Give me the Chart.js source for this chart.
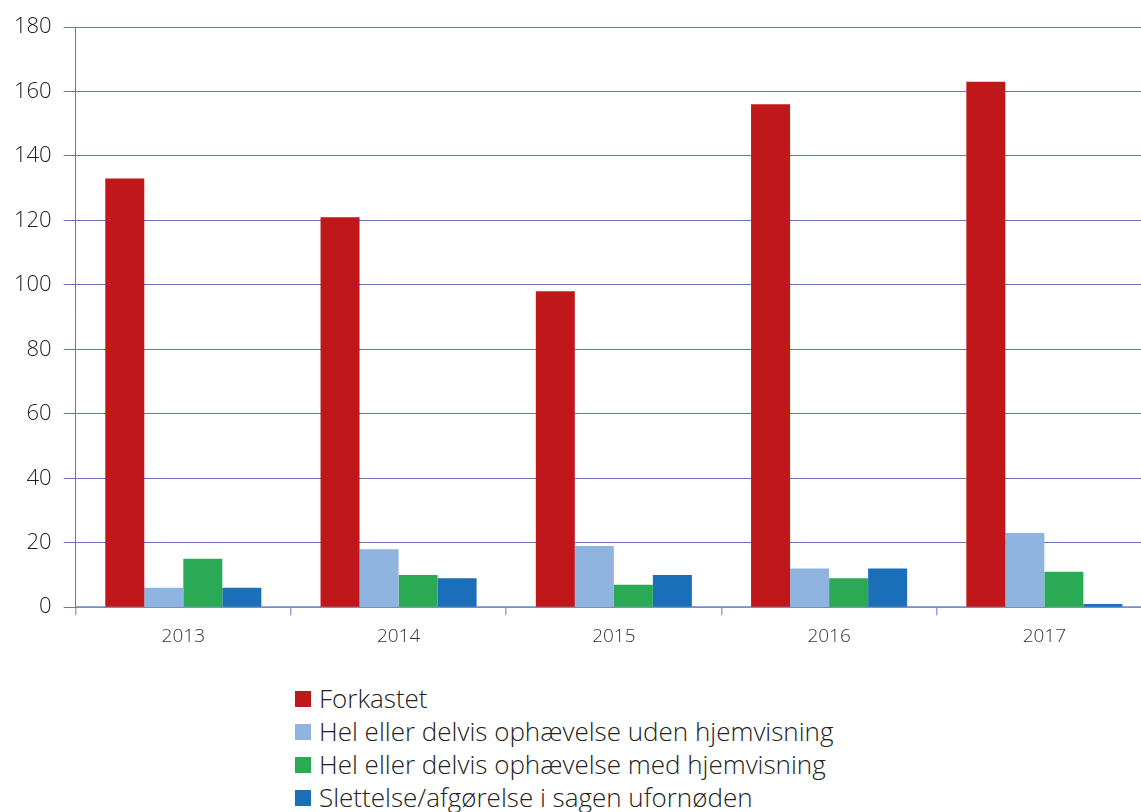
<!DOCTYPE html>
<html>
<head>
<meta charset="utf-8">
<script src="https://cdn.jsdelivr.net/npm/chart.js@4"></script>
<style>
  body { margin: 0; background: #fff; font-family: "Open Sans", sans-serif; overflow: hidden; }
  #wrap { position: relative; width: 1141px; height: 660px; overflow: hidden; }
  #legend { position: absolute; left: 295px; top: 682px; font-weight: 300; font-size: 26px; color: #222; }
  #legend div { height: 33px; line-height: 33px; display: flex; align-items: center; }
  #legend span.box { display: inline-block; width: 16px; height: 16px; margin-right: 8px; }
</style>
</head>
<body>
<div id="wrap"><canvas id="myChart" width="1152" height="660"></canvas></div>
<div id="legend"></div>
<script>
// data
const years = ['2013', '2014', '2015', '2016', '2017'];
const forkastet = [133, 121, 98, 156, 163];
const udenHjemvisning = [6, 18, 19, 12, 23];
const medHjemvisning = [15, 10, 7, 9, 11];
const slettelse = [6, 9, 10, 12, 1];
const seriesNames = [
    'Forkastet',
    'Hel eller delvis ophævelse uden hjemvisning',
    'Hel eller delvis ophævelse med hjemvisning',
    'Slettelse/afgørelse i sagen ufornøden'
];
const seriesColors = ['#c0181a', '#8fb4e0', '#2aaa55', '#1a6fb8'];

const gridBlue = '#6475b8';

const ctx = document.getElementById('myChart');
const chart = new Chart(ctx, {
    type: 'bar',
    data: {
        labels: years,
        datasets: [forkastet, udenHjemvisning, medHjemvisning, slettelse].map(function (d, i) {
            return {
                label: seriesNames[i],
                data: d,
                backgroundColor: seriesColors[i],
                borderWidth: 0
            };
        })
    },
    options: {
        responsive: false,
        animation: false,
        layout: { padding: { top: 27, left: 2, right: 0, bottom: 2 } },
        plugins: {
            legend: { display: false },
            tooltip: { enabled: false }
        },
        datasets: { bar: { categoryPercentage: 0.725, barPercentage: 1 } },
        scales: {
            x: {
                offset: true,
                grid: { offset: true, drawOnChartArea: false, color: '#8fa6d8', tickLength: 8, lineWidth: 1.5 },
                border: { color: '#8fa6d8', width: 1.5 },
                ticks: { color: '#333', font: { family: 'Open Sans', size: 19, weight: '300' }, padding: 10 }
            },
            y: {
                min: 0,
                max: 180,
                grid: { color: gridBlue, lineWidth: 1, tickLength: 12 },
                border: { color: gridBlue, width: 1 },
                ticks: { stepSize: 20, color: '#222', font: { family: 'Open Sans', size: 22, weight: '300' }, padding: 12 }
            }
        }
    }
});

// legend as html
const legend = document.getElementById('legend');
chart.data.datasets.forEach(function (ds) {
    const row = document.createElement('div');
    row.innerHTML = '<span class="box" style="background:' + ds.backgroundColor + '"></span>' + ds.label;
    legend.appendChild(row);
});
</script>
</body>
</html>
